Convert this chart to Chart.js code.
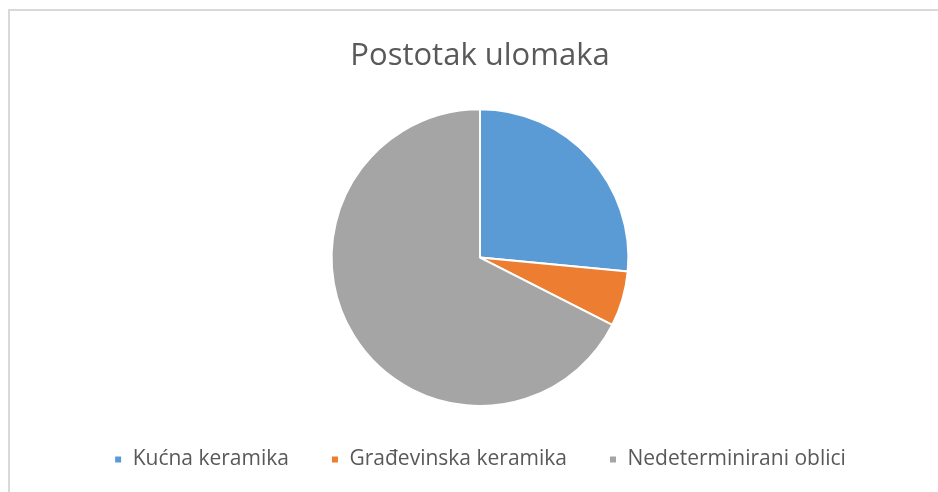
<!DOCTYPE html>
<html><head><meta charset="utf-8">
<script src="https://cdn.jsdelivr.net/npm/chart.js@4.4.1/dist/chart.umd.min.js"></script>
<style>
html,body{margin:0;padding:0;background:#fff;}
#wrap{position:relative;width:938px;height:492px;overflow:hidden;}
#frame{position:absolute;left:8px;top:9px;width:940px;height:490px;border-top:2px solid #d9d9d9;border-left:2px solid #d9d9d9;}
canvas{position:absolute;left:0;top:0;}
</style></head>
<body><div id="wrap"><div id="frame"></div><canvas id="c" width="938" height="492"></canvas></div>
<script>
const categories = ["Kućna keramika", "Građevinska keramika", "Nedeterminirani oblici"];
const values = [26.5, 6.0, 67.5];
const colors = ["#5B9BD5", "#ED7D31", "#A5A5A5"];
const titleText = "Postotak ulomaka";

new Chart(document.getElementById('c'), {
  type: 'pie',
  data: { labels: categories, datasets: [{ data: values, backgroundColor: colors, borderColor: '#ffffff', borderWidth: 2 }] },
  options: {
    responsive: false, animation: false,
    layout: { padding: { left: 22, right: 0, top: 0, bottom: 12 } },
    plugins: {
      title: { display: true, text: titleText, color: '#595959', font: { family: 'Open Sans', size: 31, weight: 'normal' }, padding: { top: 38, bottom: 33 } },
      legend: { position: 'bottom', labels: { color: '#595959', font: { family: 'Open Sans', size: 21 }, boxWidth: 8, boxHeight: 8, padding: 42 } },
      tooltip: { enabled: false }
    }
  }
});
</script></body></html>
